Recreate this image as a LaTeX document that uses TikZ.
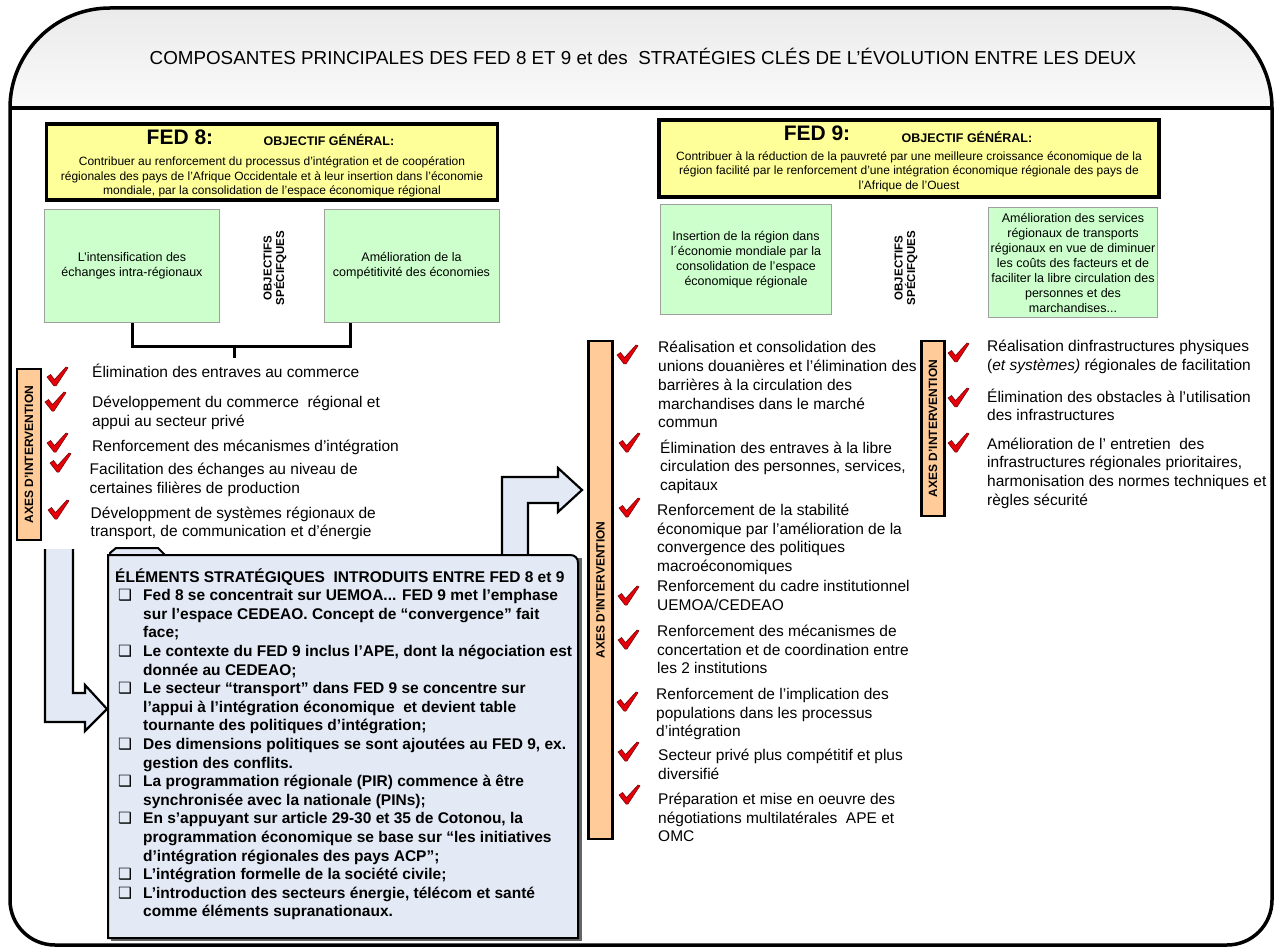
\documentclass[tikz,border=0pt]{standalone}
\usepackage{fontspec}
\setmainfont{Liberation Sans}
\newfontfamily\symfont{DejaVu Sans}
\usetikzlibrary{positioning}

\definecolor{fedyellow}{HTML}{FFFF99}
\definecolor{objgreen}{HTML}{CCFFCC}
\definecolor{axepeach}{HTML}{FFCC99}
\definecolor{stratblue}{HTML}{E3EAF5}
\definecolor{chkred}{HTML}{E5000A}

\newcommand\fsz[2]{\fontsize{#1}{#2}\selectfont}
\newcommand\sqbul{\hspace*{3pt}\makebox[25pt][l]{\symfont ❑}}
\newcommand\sqind{\hspace*{28pt}}

\tikzset{
  outerframe/.style={line width=3.5pt, line join=round},
  fedbox/.style={draw, line width=3.5pt, fill=fedyellow, inner sep=0pt},
  fedlbl/.style={font=\fsz{21}{25}\bfseries, inner sep=0pt, anchor=base},
  genlbl/.style={font=\fsz{12.5}{15}\bfseries, inner sep=0pt, anchor=base},
  fedtxt/.style={font=\fsz{12}{14.3}, align=center, inner sep=0pt, anchor=base},
  objbox/.style={draw=gray!75, line width=0.8pt, fill=objgreen, align=center,
    font=\fsz{12.5}{15}, inner sep=0pt},
  objlbl/.style={rotate=90, align=center, font=\fsz{11.5}{12.5}\bfseries, inner sep=0pt},
  axebar/.style={draw, line width=2.5pt, fill=axepeach, rotate=90,
    font=\fsz{12}{14}\bfseries, inner sep=0pt},
  chkitem/.style={anchor=base west, align=left, font=\fsz{15.5}{18.7}, inner sep=0pt},
  stratlist/.style={anchor=base west, align=left, font=\fsz{15.5}{18.6}\bfseries, inner sep=0pt},
  brk/.style={line width=3pt},
  bigarrow/.style={fill=stratblue, draw, line width=2.2pt, line join=miter},
  chk/.pic={
    \filldraw[fill=chkred, draw=red!40!black, line width=0.5pt]
      (0,10) -- (3.5,7.5) -- (7.5,12.5) -- (19,0) -- (21,0.8) -- (9,19) -- (7,19) -- cycle;
  }
}

\begin{document}
\begin{tikzpicture}[x=1pt, y=-1pt]
    \useasboundingbox (0,0) rectangle (1277,949);

    \fill[top color=gray!16, bottom color=gray!4] (10,108) .. controls (10,53) and (55,8) .. (110,8)
        -- (1172,8) .. controls (1227,8) and (1272,53) .. (1272,108) -- cycle;
    \draw[outerframe] (10,108) -- (10,900) .. controls (10,925) and (30,945) .. (55,945)
        -- (1227,945) .. controls (1252,945) and (1272,925) .. (1272,900)
        -- (1272,108) .. controls (1272,53) and (1227,8) .. (1172,8)
        -- (110,8) .. controls (55,8) and (10,53) .. (10,108) -- cycle;
    \draw[outerframe] (10,108) -- (1272,108);
    \node[font=\fsz{18.8}{22}, inner sep=0pt, anchor=base] (ttl) at (643,64.5)
        {COMPOSANTES PRINCIPALES DES FED 8 ET 9 et des~ STRATÉGIES CLÉS DE L’ÉVOLUTION ENTRE LES DEUX};

    % FED 8 (multi-line nodes sit on the baseline of their last line)
    \node[fedbox, minimum width=451pt, minimum height=76pt] (fed8) at (272,162) {};
    \node[fedlbl] (fed8t) at (180,145) {FED 8:};
    \node[genlbl] (og8) at (329,146) {OBJECTIF GÉNÉRAL:};
    \node[fedtxt] (fed8o) at (272,194.6) {Contribuer au renforcement du processus d'intégration et de coopération\\
        régionales des pays de l'Afrique Occidentale et à leur insertion dans l'économie\\
        mondiale, par la consolidation de l'espace économique régional};

    \node[objbox, minimum width=175pt, minimum height=113pt] (o8a) at (132,266)
        {L'intensification des\\échanges intra-régionaux};
    \node[objbox, minimum width=175pt, minimum height=113pt] (o8b) at (411.5,266)
        {Amélioration de la\\compétitivité des économies};
    \node[objlbl] (os8) at (275,268) {OBJECTIFS\\SPÉCIFQUES};
    \draw[brk] (o8a.south) -- ++(0,24) coordinate (bl) -| coordinate[pos=0.235] (bm)
        ([xshift=27pt]o8b.south west);
    \draw[brk] (bm) -- ++(0,11);

    \node[axebar, minimum width=171pt, minimum height=24pt] (ax8) at (29,454.5) {AXES D’INTERVENTION};
    \foreach \p in {(47,367),(45,392),(47,433),(50,453),(48,500)}
        \pic at \p {chk};
    \node[chkitem] (l1) at (92,378) {Élimination des entraves au commerce};
    \node[chkitem] (l2) at (92,426.2) {Développement du commerce~ régional et\\appui au secteur privé};
    \node[chkitem] (l3) at (92,451.5) {Renforcement des mécanismes d’intégration};
    \node[chkitem] (l4) at (89.5,493.2) {Facilitation des échanges au niveau de\\certaines filières de production};
    \node[chkitem] (l5) at (90.5,536.7) {Développment de systèmes régionaux de\\transport, de communication et d’énergie};

    % FED 9
    \node[fedbox, minimum width=500pt, minimum height=77pt] (fed9) at (909,158.5) {};
    \node[fedlbl] (fed9t) at (817,141) {FED 9:};
    \node[genlbl] (og9) at (967,143) {OBJECTIF GÉNÉRAL:};
    \node[fedtxt] (fed9o) at (909,189.1) {Contribuer à la réduction de la pauvreté par une meilleure croissance économique de la\\
        région facilité par le renforcement d'une intégration économique régionale des pays de\\
        l'Afrique de l'Ouest};

    \node[objbox, minimum width=171pt, minimum height=110pt] (o9a) at (746,259.5)
        {Insertion de la région dans\\l´économie mondiale par la\\consolidation de l'espace\\économique régionale};
    \node[objbox, minimum width=169pt, minimum height=110pt] (o9b) at (1073,262.5)
        {Amélioration des services\\régionaux de transports\\régionaux en vue de diminuer\\les coûts des facteurs et de\\
        faciliter la libre circulation des\\personnes et des\\marchandises...};
    \node[objlbl] (os9) at (906,268) {OBJECTIFS\\SPÉCIFQUES};

    \node[axebar, minimum width=498pt, minimum height=24pt] (ax9a) at (600.5,590) {AXES D’INTERVENTION};
    \foreach \p in {(617,345),(619,433),(619,498),(618,586),(618,630),(617,692),(618,742),(619,785)}
        \pic at \p {chk};
    \node[chkitem] (m1) at (658,427.8) {Réalisation et consolidation des\\unions douanières et l’élimination des\\
        barrières à la circulation des\\marchandises dans le marché\\commun};
    \node[chkitem] (m2) at (660,490.4) {Élimination des entraves à la libre\\circulation des personnes, services,\\capitaux};
    \node[chkitem] (m3) at (657,571.6) {Renforcement de la stabilité\\économique par l’amélioration de la\\
        convergence des politiques\\macroéconomiques};
    \node[chkitem] (m4) at (657,610.2) {Renforcement du cadre institutionnel\\UEMOA/CEDEAO};
    \node[chkitem] (m5) at (657,673.9) {Renforcement des mécanismes de\\concertation et de coordination entre\\les 2 institutions};
    \node[chkitem] (m6) at (656,736.9) {Renforcement de l’implication des\\populations dans les processus\\d’intégration};
    \node[chkitem] (m7) at (658,779.2) {Secteur privé plus compétitif et plus\\diversifié};
    \node[chkitem] (m8) at (658,841.9) {Préparation et mise en oeuvre des\\négotiations multilatérales~ APE et\\OMC};

    \node[axebar, minimum width=175pt, minimum height=23pt] (ax9b) at (933,428.5) {AXES D’INTERVENTION};
    \foreach \p in {(948,343),(948,388),(948,433)}
        \pic at \p {chk};
    \node[chkitem] (r1) at (987,370.2) {Réalisation dinfrastructures physiques\\(\textit{et systèmes)} régionales de facilitation};
    \node[chkitem] (r2) at (987,420.7) {Élimination des obstacles à l'utilisation\\des infrastructures};
    \node[chkitem] (r3) at (987,505.1) {Amélioration de l' entretien~ des\\infrastructures régionales prioritaires,\\
        harmonisation des normes techniques et\\règles sécurité};

    % arrows and strategic elements
    \filldraw[bigarrow] (45,549) -- (45,722) -- (85,722) -- (85,731) -- (107,709) -- (85,685)
        -- (85,693) -- (73,693) -- (73,549);
    \filldraw[bigarrow] (502,557) -- (502,477) -- (558,477) -- (558,468) -- (582,490) -- (558,512)
        -- (558,503) -- (528,503) -- (528,557);
    \fill[black!60] (111,558) rectangle (582,941);
    \filldraw[fill=stratblue, line width=2pt] (110,555) -- (110,553) -- (116,548) -- (158,548) -- (165,555);
    \filldraw[fill=stratblue, line width=2pt] (108,555) -- (570,555) .. controls (575,555) and (578,558) .. (578,563)
        -- (578,938) -- (108,938) -- cycle;
    \node[stratlist] (elts) at (115,916.8) {ÉLÉMENTS STRATÉGIQUES~ INTRODUITS ENTRE FED 8 et 9\\
        \sqbul Fed 8 se concentrait sur UEMOA... FED 9 met l’emphase\\
        \sqind sur l’espace CEDEAO. Concept de “convergence” fait\\
        \sqind face;\\
        \sqbul Le contexte du FED 9 inclus l’APE, dont la négociation est\\
        \sqind donnée au CEDEAO;\\
        \sqbul Le secteur “transport” dans FED 9 se concentre sur\\
        \sqind l’appui à l’intégration économique~ et devient table\\
        \sqind tournante des politiques d’intégration;\\
        \sqbul Des dimensions politiques se sont ajoutées au FED 9, ex.\\
        \sqind gestion des conflits.\\
        \sqbul La programmation régionale (PIR) commence à être\\
        \sqind synchronisée avec la nationale (PINs);\\
        \sqbul En s’appuyant sur article 29-30 et 35 de Cotonou, la\\
        \sqind programmation économique se base sur “les initiatives\\
        \sqind d’intégration régionales des pays ACP”;\\
        \sqbul L’intégration formelle de la société civile;\\
        \sqbul L’introduction des secteurs énergie, télécom et santé\\
        \sqind comme éléments supranationaux.};
\end{tikzpicture}
\end{document}
